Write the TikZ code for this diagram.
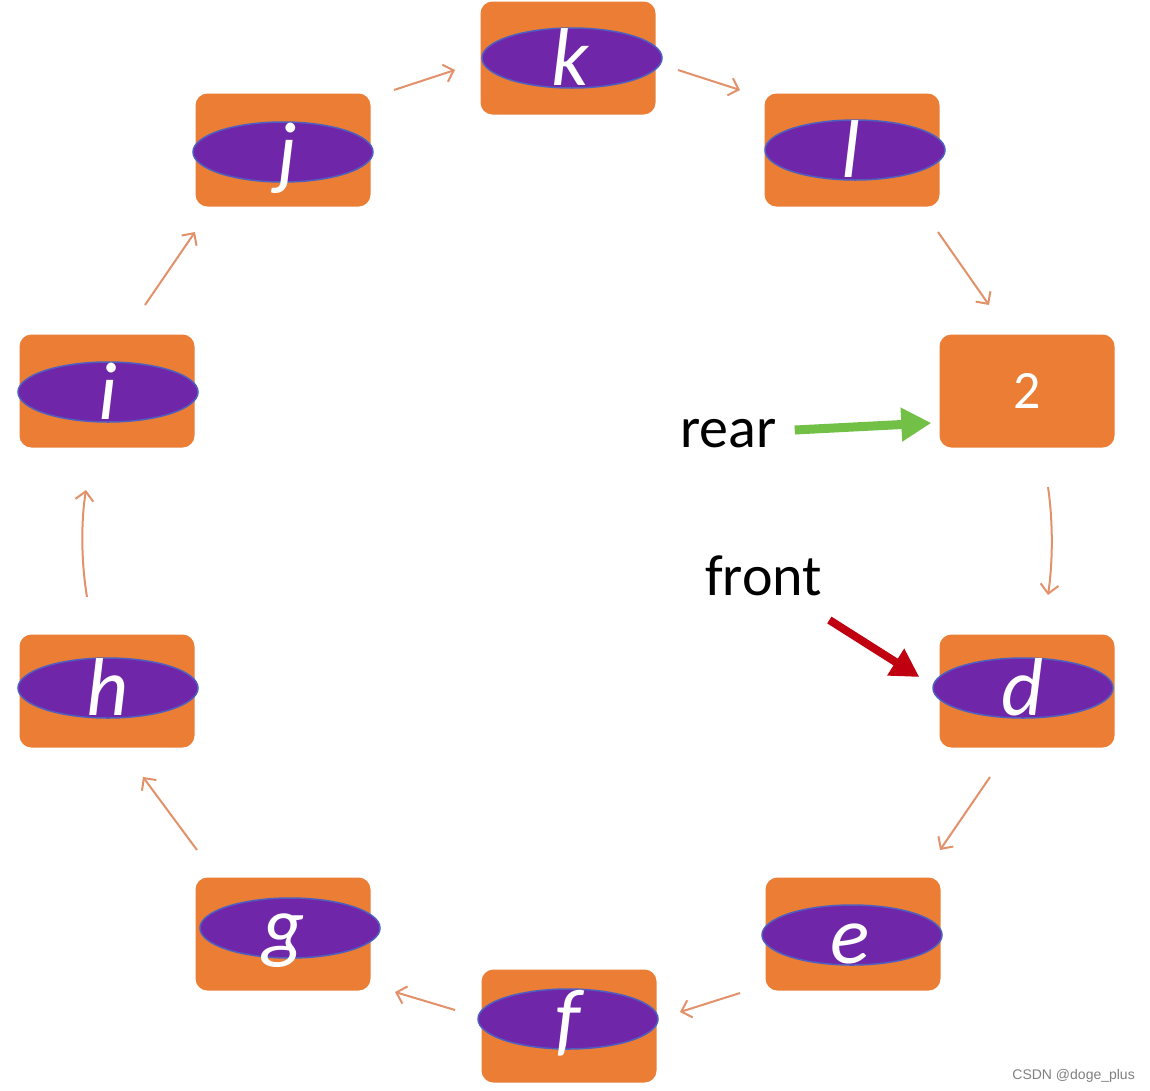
\documentclass[tikz,border=0pt]{standalone}
\usepackage{fontspec}
\setmainfont{Carlito}
\newfontfamily\wmfont{Liberation Sans}
\usetikzlibrary{shapes.geometric,arrows.meta,calc}
\definecolor{boxorange}{HTML}{EB7D35}
\definecolor{ellpurple}{HTML}{7026A8}
\definecolor{ellborder}{HTML}{4F5FC0}
\definecolor{arrorange}{HTML}{E2916A}
\definecolor{rgreen}{HTML}{72C046}
\definecolor{fred}{HTML}{C00010}
\begin{document}
\begin{tikzpicture}[x=1pt,y=-1pt,
  cell/.style={rectangle, rounded corners=12, minimum width=175, minimum height=113,
    fill=boxorange, inner sep=0, text=white, font=\fontsize{54}{54}\selectfont},
  oval/.style={ellipse, minimum width=180, minimum height=60, inner sep=0,
    fill=ellpurple, draw=ellborder, line width=1.5},
  letter/.style={anchor=base, inner sep=0, text=white,
    font=\fontsize{82}{82}\selectfont\itshape},
  conn/.style={draw=arrorange, line width=2, -{Straight Barb[length=9,width=18]}},
  lbl/.style={inner sep=0, text=black, font=\fontsize{58}{58}\selectfont},
  greenarr/.style={draw=rgreen, line width=9, -{Triangle[length=30,width=32]}},
  redarr/.style={draw=fred, line width=8, -{Triangle[length=28,width=30]}}]
\useasboundingbox (0,0) rectangle (1150,1090);
\fill[white] (0,0) rectangle (1150,1090);
% boxes
\node[cell] (k) at (568,58) {};
\node[cell] (l) at (852,150) {};
\node[cell] (n2) at (1027,391) {2};
\node[cell] (d) at (1027,691) {};
\node[cell] (e) at (853,934) {};
\node[cell] (f) at (569,1026) {};
\node[cell] (g) at (283,934) {};
\node[cell] (h) at (107,691) {};
\node[cell] (i) at (107,391) {};
\node[cell] (j) at (283,150) {};
% ovals
\node[oval] (ko) at ($(k)+(4,0)$) {};
\node[oval] (lo) at ($(l)+(3,0)$) {};
\node[oval] (do) at ($(d)+(-4,-3)$) {};
\node[oval] (eo) at ($(e)+(-1,1)$) {};
\node[oval] (fo) at ($(f)+(-1,-7)$) {};
\node[oval] (go) at ($(g)+(7,-6)$) {};
\node[oval] (ho) at ($(h)+(1,-3)$) {};
\node[oval] (io) at ($(i)+(1,1)$) {};
\node[oval] (jo) at ($(j)+(0,2)$) {};
% letters
\node[letter] (kt) at ($(ko)+(-2,27)$) {k};
\node[letter] (lt) at ($(lo)+(-4,27)$) {l};
\node[letter] (dt) at ($(do)+(0,27)$) {d};
\node[letter] (et) at ($(eo)+(-2,28)$) {e};
\node[letter] (ft) at ($(fo)+(0,27)$) {f};
\node[letter] (gt) at ($(go)+(-6,25)$) {g};
\node[letter] (ht) at ($(ho)+(0,27)$) {h};
\node[letter] (it) at ($(io)+(0,27)$) {i};
\node[letter] (jt) at ($(jo)+(4,27)$) {j};
% ring connectors
\draw[conn] ($(j)+(111,-60)$) -- ($(k)+(-113,12)$);
\draw[conn] ($(k)+(110,12)$) -- ($(l)+(-112,-60)$);
\draw[conn] ($(l)+(86,82)$) -- ($(n2)+(-38,-86)$);
\draw[conn] ($(n2)+(21,96)$) .. controls ($(n2)+(26,130)$) and ($(d)+(26,-130)$) .. ($(d)+(21,-96)$);
\draw[conn] ($(d)+(-37,86)$) -- ($(e)+(87,-84)$);
\draw[conn] ($(e)+(-113,59)$) -- ($(f)+(111,-14)$);
\draw[conn] ($(f)+(-114,-16)$) -- ($(g)+(112,58)$);
\draw[conn] ($(g)+(-86,-84)$) -- ($(h)+(36,86)$);
\draw[conn] ($(h)+(-20,-94)$) .. controls ($(h)+(-26,-130)$) and ($(i)+(-26,130)$) .. ($(i)+(-21,99)$);
\draw[conn] ($(i)+(38,-86)$) -- ($(j)+(-88,82)$);
% labels
\node[lbl, anchor=base west] (rear) at (680,447) {rear};
\node[lbl, anchor=base west] (front) at (705,595) {front};
\draw[greenarr] ($(rear.base east)+(18,-17)$) -- ($(n2.west)+(-8,32)$);
\draw[redarr] ($(front.base east)+(7,25)$) -- ($(d.west)+(-20,-14)$);
% watermark
\node[anchor=base east, inner sep=0, text=gray, font=\fontsize{14}{14}\selectfont\wmfont] (wm) at (1135,1079) {CSDN @doge\_plus};
\end{tikzpicture}
\end{document}
